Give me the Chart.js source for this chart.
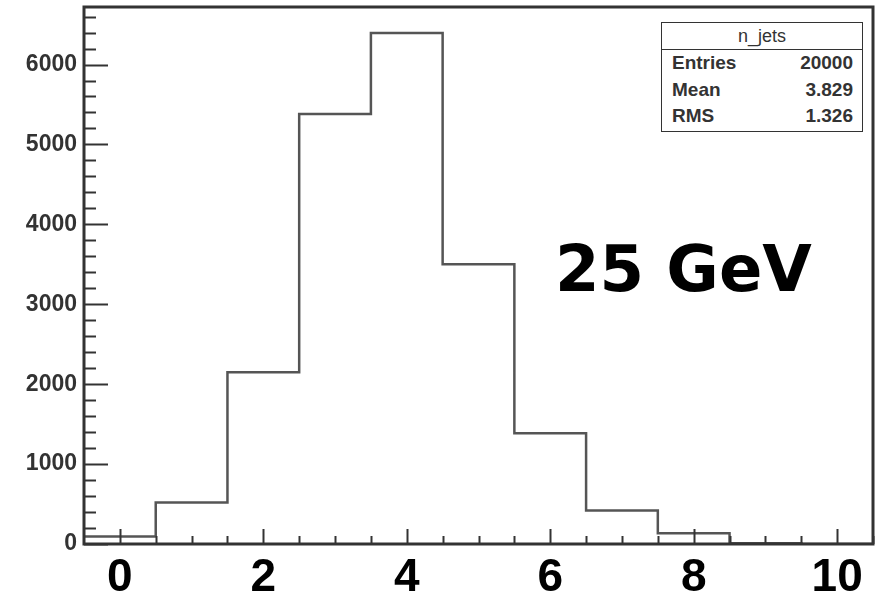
<!DOCTYPE html>
<html>
<head>
<meta charset="utf-8">
<script src="https://cdn.jsdelivr.net/npm/chart.js@4.4.1/dist/chart.umd.min.js"></script>
<style>
  html, body { margin: 0; padding: 0; background: #fff; }
  #wrap { position: relative; width: 883px; height: 592px; }
  #stats {
    position: absolute; left: 661px; top: 22px; width: 200px; height: 108px;
    border: 1.5px solid #333; background: #fff;
    font-family: "Liberation Sans", Arial, sans-serif; font-weight: bold; font-size: 19px; color: #333;
  }
  #stats .head { height: 26px; line-height: 26px; text-align: center; border-bottom: 1.5px solid #333; font-weight: normal; font-size: 18px; }
  #stats .row { display: flex; justify-content: space-between; padding: 0 9px 0 10px; height: 26.5px; line-height: 26.5px; }
  #label {
    position: absolute; left: 555px; top: 237px;
    font-family: "DejaVu Sans", sans-serif; font-weight: bold; font-size: 64px; line-height: 1; color: #000;
  }
</style>
</head>
<body>
<div id="wrap">
  <canvas id="histChart" width="883" height="592"></canvas>
  <div id="stats">
    <div class="head">n_jets</div>
    <div class="row"><span>Entries</span><span>20000</span></div>
    <div class="row"><span>Mean</span><span>3.829</span></div>
    <div class="row"><span>RMS</span><span>1.326</span></div>
  </div>
  <div id="label">25 GeV</div>
</div>
<script>
// === DATA ===
const binCenters = [0, 1, 2, 3, 4, 5, 6, 7, 8, 9, 10];
const binCounts = [95, 520, 2150, 5380, 6395, 3500, 1385, 420, 135, 10, 0];
const xTickLabels = [0, 2, 4, 6, 8, 10];
const yTickLabels = [0, 1000, 2000, 3000, 4000, 5000, 6000];

// titik tepi bin untuk garis histogram (stepped)
const stepPoints = binCenters.map((c, i) => ({ x: c - 0.5, y: binCounts[i] }));
stepPoints.push({ x: binCenters[binCenters.length - 1] + 0.5, y: binCounts[binCounts.length - 1] });

// tick ke dalam + bingkai ala ROOT
const frameTicks = {
    id: "frameTicks",
    afterDatasetsDraw(chart) {
        const { ctx, chartArea: a, scales } = chart;
        const xs = scales.x, ys = scales.y;
        ctx.save();
        ctx.strokeStyle = "#333";
        ctx.lineWidth = 2;
        // y ticks
        for (let v = 0; v <= ys.max; v += 200) {
            const py = Math.round(ys.getPixelForValue(v)) + 0.5;
            const len = v % 1000 === 0 ? 24 : 12;
            ctx.beginPath();
            ctx.moveTo(a.left, py);
            ctx.lineTo(a.left + len, py);
            ctx.stroke();
        }
        // x ticks
        for (let v = 0; v <= xs.max; v += 0.5) {
            const px = Math.round(xs.getPixelForValue(v)) + 0.5;
            const len = v % 2 === 0 ? 15 : 8;
            ctx.beginPath();
            ctx.moveTo(px, a.bottom);
            ctx.lineTo(px, a.bottom - len);
            ctx.stroke();
        }
        ctx.lineWidth = 3;
        ctx.strokeRect(a.left, a.top, a.right - a.left, a.bottom - a.top);
        ctx.restore();
    },
};

const ctx = document.getElementById("histChart").getContext("2d");
new Chart(ctx, {
    type: "line",
    data: {
        datasets: [{
            label: "n_jets",
            data: stepPoints,
            stepped: "before",
            borderColor: "#555",
            borderWidth: 2.5,
            pointRadius: 0,
            fill: false,
        }],
    },
    options: {
        responsive: false,
        animation: false,
        layout: { padding: { top: 7, right: 10, left: 0, bottom: 0 } },
        plugins: { legend: { display: false }, tooltip: { enabled: false } },
        scales: {
            x: {
                type: "linear",
                min: -0.5,
                max: 10.5,
                grid: { display: false, drawTicks: false },
                border: { display: false },
                afterBuildTicks: (s) => { s.ticks = xTickLabels.map((v) => ({ value: v })); },
                afterFit: (s) => { s.height = 48; s.paddingLeft = 0; s.paddingRight = 0; },
                ticks: {
                    autoSkip: false,
                    maxRotation: 0,
                    padding: 7,
                    color: "#000",
                    font: { family: "Liberation Sans", weight: "bold", size: 46 },
                    callback: (v) => String(v),
                },
            },
            y: {
                type: "linear",
                min: 0,
                max: 6720,
                grid: { display: false, drawTicks: false },
                border: { display: false },
                afterBuildTicks: (s) => { s.ticks = yTickLabels.map((v) => ({ value: v })); },
                afterFit: (s) => { s.width = 84; s.paddingTop = 0; s.paddingBottom = 0; },
                ticks: {
                    padding: 7,
                    color: "#333",
                    font: { family: "Liberation Sans", weight: "bold", size: 23 },
                    callback: (v) => String(v),
                },
            },
        },
    },
    plugins: [frameTicks],
});
</script>
</body>
</html>
